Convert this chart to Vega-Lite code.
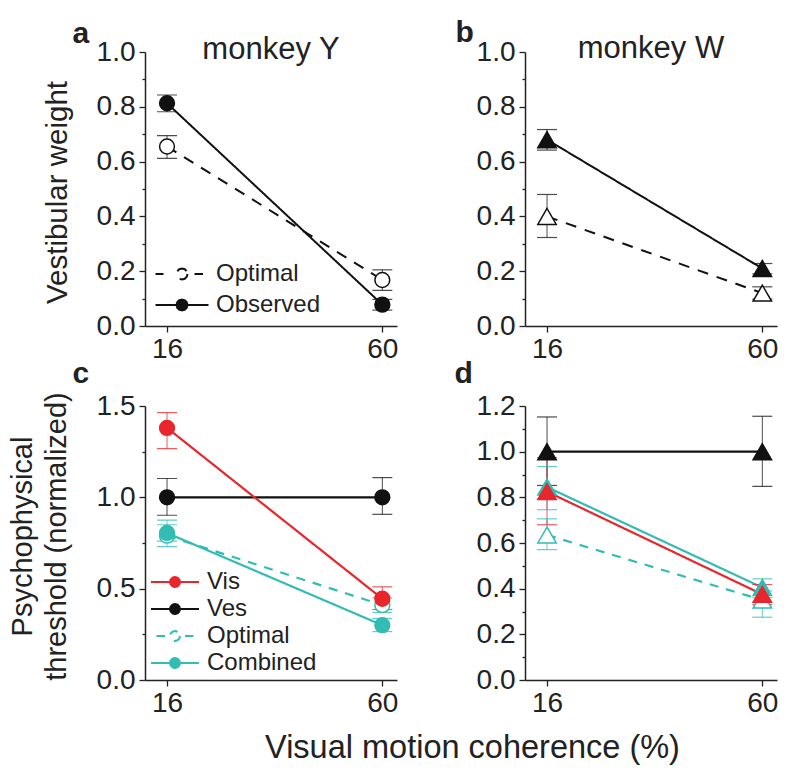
{
  "$schema": "https://vega.github.io/schema/vega-lite/v6.json",
  "autosize": "none",
  "padding": {"left": 145, "top": 52, "right": 655, "bottom": 730},
  "background": "white",
  "config": {
    "view": {"stroke": null},
    "font": "Liberation Sans",
    "axis": {"labelFont": "Liberation Sans", "labelFontSize": 28, "labelColor": "#222", "domainColor": "#222", "tickColor": "#222", "domainWidth": 1.5, "tickWidth": 1.3, "grid": false, "titleFont": "Liberation Sans", "titleFontWeight": "normal", "titleColor": "#222"},
    "title": {"font": "Liberation Sans", "fontWeight": "normal", "color": "#222"}
  },
  "datasets": {
    "a": [
      {"coh": 16, "s": "Optimal", "v": 0.655, "lo": 0.612, "hi": 0.695},
      {"coh": 60, "s": "Optimal", "v": 0.168, "lo": 0.13, "hi": 0.205},
      {"coh": 16, "s": "Observed", "v": 0.813, "lo": 0.782, "hi": 0.843},
      {"coh": 60, "s": "Observed", "v": 0.078, "lo": 0.058, "hi": 0.097}
    ],
    "b": [
      {"coh": 16, "s": "Optimal", "v": 0.40, "lo": 0.323, "hi": 0.48},
      {"coh": 60, "s": "Optimal", "v": 0.12, "lo": 0.098, "hi": 0.143},
      {"coh": 16, "s": "Observed", "v": 0.68, "lo": 0.642, "hi": 0.717},
      {"coh": 60, "s": "Observed", "v": 0.21, "lo": 0.19, "hi": 0.228}
    ],
    "c": [
      {"coh": 16, "s": "Optimal", "v": 0.79, "lo": 0.73, "hi": 0.875},
      {"coh": 60, "s": "Optimal", "v": 0.41, "lo": 0.37, "hi": 0.45},
      {"coh": 16, "s": "Combined", "v": 0.805, "lo": 0.76, "hi": 0.85},
      {"coh": 60, "s": "Combined", "v": 0.30, "lo": 0.265, "hi": 0.337},
      {"coh": 16, "s": "Ves", "v": 1.0, "lo": 0.902, "hi": 1.103},
      {"coh": 60, "s": "Ves", "v": 1.0, "lo": 0.907, "hi": 1.108},
      {"coh": 16, "s": "Vis", "v": 1.38, "lo": 1.267, "hi": 1.464},
      {"coh": 60, "s": "Vis", "v": 0.445, "lo": 0.386, "hi": 0.51}
    ],
    "d": [
      {"coh": 16, "s": "Optimal", "v": 0.635, "lo": 0.571, "hi": 0.706},
      {"coh": 60, "s": "Optimal", "v": 0.35, "lo": 0.275, "hi": 0.39},
      {"coh": 16, "s": "Combined", "v": 0.845, "lo": 0.746, "hi": 0.935},
      {"coh": 60, "s": "Combined", "v": 0.405, "lo": 0.36, "hi": 0.443},
      {"coh": 16, "s": "Ves", "v": 1.0, "lo": 0.852, "hi": 1.152},
      {"coh": 60, "s": "Ves", "v": 1.0, "lo": 0.848, "hi": 1.155},
      {"coh": 16, "s": "Vis", "v": 0.825, "lo": 0.68, "hi": 0.974},
      {"coh": 60, "s": "Vis", "v": 0.375, "lo": 0.33, "hi": 0.418}
    ]
  },
  "bounds": "flush",
  "columns": 2,
  "spacing": {"row": 80, "column": 128},
  "resolve": {"scale": {"x": "independent", "y": "independent", "color": "independent", "fill": "independent", "stroke": "independent", "shape": "independent", "strokeDash": "independent"}, "legend": {"fill": "independent", "stroke": "independent", "shape": "independent"}},
  "concat": [
    {
      "width": 252, "height": 274,
      "data": {"name": "a"},
      "title": {"text": "monkey Y", "fontSize": 31, "anchor": "middle", "frame": "group", "baseline": "alphabetic", "offset": -72},
      "encoding": {
        "x": {"field": "coh", "type": "quantitative", "scale": {"domain": [11.5, 63], "nice": false, "zero": false},
              "axis": {"values": [16, 60], "tickSize": 6, "labelPadding": 3, "title": "a", "titleX": -73, "titleY": -284, "titleAngle": 0, "titleAlign": "left", "titleBaseline": "alphabetic", "titleFontSize": 30, "titleFontWeight": "bold"}},
        "y": {"field": "v", "type": "quantitative", "scale": {"domain": [0, 1], "nice": false},
              "axis": {"values": [0, 0.1, 0.2, 0.3, 0.4, 0.5, 0.6, 0.7, 0.8, 0.9, 1.0],
                       "labelExpr": "abs(datum.value*5-round(datum.value*5))<0.001 ? format(datum.value,'.1f') : ''",
                       "tickSize": {"condition": {"test": "abs(datum.value*5-round(datum.value*5))<0.001", "value": 6}, "value": 3},
                       "labelPadding": 4,
                       "title": "Vestibular weight", "titleFontSize": 29.5, "titleX": -73, "titleY": 140, "titleAngle": 270, "titleAlign": "center", "titleBaseline": "bottom"}}
      },
      "layer": [
        {
          "mark": {"type": "point", "opacity": 0, "size": 100, "filled": true},
          "encoding": {
            "shape": {"field": "s", "type": "nominal", "scale": {"domain": ["Optimal", "Observed"], "range": ["M-5.3,0H-3.7M2.5,0H4.2M1.1,0L0.953,0.55L0.55,0.953L0,1.1L-0.55,0.953L-0.953,0.55L-1.1,0L-0.953,-0.55L-0.55,-0.953L0,-1.1L0.55,-0.953L0.953,-0.55Z", "M-5.3,0H5.3M1.1,0L0.953,0.55L0.55,0.953L0,1.1L-0.55,0.953L-0.953,0.55L-1.1,0L-0.953,-0.55L-0.55,-0.953L0,-1.1L0.55,-0.953L0.953,-0.55Z"]},
                      "legend": {"orient": "none", "legendX": 25, "legendY": 210, "title": null, "labelFont": "Liberation Sans", "labelFontSize": 24, "labelColor": "#222", "labelOffset": 22, "rowPadding": 7, "symbolSize": 100, "symbolStrokeWidth": 2, "symbolOpacity": 1, "padding": 0}},
            "fill": {"field": "s", "type": "nominal", "scale": {"domain": ["Optimal", "Observed"], "range": ["white", "#111"]},
                      "legend": {"orient": "none", "legendX": 25, "legendY": 210, "title": null, "labelFont": "Liberation Sans", "labelFontSize": 24, "labelColor": "#222", "labelOffset": 22, "rowPadding": 7, "symbolSize": 100, "symbolStrokeWidth": 2, "symbolOpacity": 1, "padding": 0}},
            "stroke": {"field": "s", "type": "nominal", "scale": {"domain": ["Optimal", "Observed"], "range": ["#111", "#111"]},
                      "legend": {"orient": "none", "legendX": 25, "legendY": 210, "title": null, "labelFont": "Liberation Sans", "labelFontSize": 24, "labelColor": "#222", "labelOffset": 22, "rowPadding": 7, "symbolSize": 100, "symbolStrokeWidth": 2, "symbolOpacity": 1, "padding": 0}}
          }
        },
        {
          "mark": {"type": "line", "strokeWidth": 2},
          "encoding": {
            "color": {"field": "s", "type": "nominal", "scale": {"domain": ["Optimal", "Observed"], "range": ["#111", "#111"]}, "legend": null},
            "strokeDash": {"field": "s", "type": "nominal", "scale": {"domain": ["Optimal", "Observed"], "range": [[11, 9], [1, 0]]}, "legend": null}
          }
        },
        {
          "mark": {"type": "rule", "strokeWidth": 1, "opacity": 0.75},
          "encoding": {"y": {"field": "lo", "type": "quantitative"}, "y2": {"field": "hi"},
                       "color": {"field": "s", "type": "nominal", "scale": {"domain": ["Optimal", "Observed"], "range": ["#111", "#111"]}, "legend": null}}
        },
        {
          "mark": {"type": "tick", "orient": "horizontal", "size": 20, "thickness": 1.2, "opacity": 0.75},
          "encoding": {"y": {"field": "lo", "type": "quantitative"},
                       "color": {"field": "s", "type": "nominal", "scale": {"domain": ["Optimal", "Observed"], "range": ["#111", "#111"]}, "legend": null}}
        },
        {
          "mark": {"type": "tick", "orient": "horizontal", "size": 20, "thickness": 1.2, "opacity": 0.75},
          "encoding": {"y": {"field": "hi", "type": "quantitative"},
                       "color": {"field": "s", "type": "nominal", "scale": {"domain": ["Optimal", "Observed"], "range": ["#111", "#111"]}, "legend": null}}
        },
        {
          "mark": {"type": "point", "shape": "circle", "size": 220, "strokeWidth": 1.5, "opacity": 1, "filled": true},
          "encoding": {
            "fill": {"field": "s", "type": "nominal", "scale": {"domain": ["Optimal", "Observed"], "range": ["white", "#111"]}, "legend": null},
            "stroke": {"field": "s", "type": "nominal", "scale": {"domain": ["Optimal", "Observed"], "range": ["#111", "#111"]}, "legend": null}
          }
        }
      ]
    },
    {
      "width": 252, "height": 274,
      "data": {"name": "b"},
      "title": {"text": "monkey W", "fontSize": 31, "anchor": "middle", "frame": "group", "baseline": "alphabetic", "offset": -72},
      "encoding": {
        "x": {"field": "coh", "type": "quantitative", "scale": {"domain": [11.5, 63], "nice": false, "zero": false},
              "axis": {"values": [16, 60], "tickSize": 6, "labelPadding": 3, "title": "b", "titleX": -70, "titleY": -285, "titleAngle": 0, "titleAlign": "left", "titleBaseline": "alphabetic", "titleFontSize": 30, "titleFontWeight": "bold"}},
        "y": {"field": "v", "type": "quantitative", "scale": {"domain": [0, 1], "nice": false},
              "axis": {"values": [0, 0.1, 0.2, 0.3, 0.4, 0.5, 0.6, 0.7, 0.8, 0.9, 1.0],
                       "labelExpr": "abs(datum.value*5-round(datum.value*5))<0.001 ? format(datum.value,'.1f') : ''",
                       "tickSize": {"condition": {"test": "abs(datum.value*5-round(datum.value*5))<0.001", "value": 6}, "value": 3},
                       "labelPadding": 4, "title": null}}
      },
      "layer": [
        {
          "mark": {"type": "line", "strokeWidth": 2},
          "encoding": {
            "color": {"field": "s", "type": "nominal", "scale": {"domain": ["Optimal", "Observed"], "range": ["#111", "#111"]}, "legend": null},
            "strokeDash": {"field": "s", "type": "nominal", "scale": {"domain": ["Optimal", "Observed"], "range": [[11, 9], [1, 0]]}, "legend": null}
          }
        },
        {
          "mark": {"type": "rule", "strokeWidth": 1, "opacity": 0.75},
          "encoding": {"y": {"field": "lo", "type": "quantitative"}, "y2": {"field": "hi"},
                       "color": {"field": "s", "type": "nominal", "scale": {"domain": ["Optimal", "Observed"], "range": ["#111", "#111"]}, "legend": null}}
        },
        {
          "mark": {"type": "tick", "orient": "horizontal", "size": 20, "thickness": 1.2, "opacity": 0.75},
          "encoding": {"y": {"field": "lo", "type": "quantitative"},
                       "color": {"field": "s", "type": "nominal", "scale": {"domain": ["Optimal", "Observed"], "range": ["#111", "#111"]}, "legend": null}}
        },
        {
          "mark": {"type": "tick", "orient": "horizontal", "size": 20, "thickness": 1.2, "opacity": 0.75},
          "encoding": {"y": {"field": "hi", "type": "quantitative"},
                       "color": {"field": "s", "type": "nominal", "scale": {"domain": ["Optimal", "Observed"], "range": ["#111", "#111"]}, "legend": null}}
        },
        {
          "mark": {"type": "point", "shape": "triangle-up", "size": 340, "strokeWidth": 1.5, "opacity": 1, "filled": true},
          "encoding": {
            "fill": {"field": "s", "type": "nominal", "scale": {"domain": ["Optimal", "Observed"], "range": ["white", "#111"]}, "legend": null},
            "stroke": {"field": "s", "type": "nominal", "scale": {"domain": ["Optimal", "Observed"], "range": ["#111", "#111"]}, "legend": null}
          }
        }
      ]
    },
    {
      "width": 252, "height": 274,
      "data": {"name": "c"},
      "encoding": {
        "x": {"field": "coh", "type": "quantitative", "scale": {"domain": [11.5, 63], "nice": false, "zero": false},
              "axis": {"values": [16, 60], "tickSize": 6, "labelPadding": 3, "title": "c", "titleX": -73, "titleY": -298, "titleAngle": 0, "titleAlign": "left", "titleBaseline": "alphabetic", "titleFontSize": 30, "titleFontWeight": "bold"}},
        "y": {"field": "v", "type": "quantitative", "scale": {"domain": [0, 1.5], "nice": false},
              "axis": {"values": [0, 0.25, 0.5, 0.75, 1.0, 1.25, 1.5],
                       "labelExpr": "abs(datum.value*2-round(datum.value*2))<0.001 ? format(datum.value,'.1f') : ''",
                       "tickSize": {"condition": {"test": "abs(datum.value*2-round(datum.value*2))<0.001", "value": 6}, "value": 3},
                       "labelPadding": 4,
                       "title": ["Psychophysical", "threshold (normalized)"], "titleFontSize": 29, "titleLineHeight": 34, "titleX": -108, "titleY": 130, "titleAngle": 270, "titleAlign": "center", "titleBaseline": "bottom"}}
      },
      "layer": [
        {
          "mark": {"type": "point", "opacity": 0, "size": 100, "filled": true},
          "encoding": {
            "shape": {"field": "s", "type": "nominal", "scale": {"domain": ["Vis", "Ves", "Optimal", "Combined"], "range": ["M-4.8,0H4.8M1,0L0.866,0.5L0.5,0.866L0,1L-0.5,0.866L-0.866,0.5L-1,0L-0.866,-0.5L-0.5,-0.866L0,-1L0.5,-0.866L0.866,-0.5Z", "M-4.8,0H4.8M1,0L0.866,0.5L0.5,0.866L0,1L-0.5,0.866L-0.866,0.5L-1,0L-0.866,-0.5L-0.5,-0.866L0,-1L0.5,-0.866L0.866,-0.5Z", "M-3.7,0H-2M2,0H3.7M1,0L0.866,0.5L0.5,0.866L0,1L-0.5,0.866L-0.866,0.5L-1,0L-0.866,-0.5L-0.5,-0.866L0,-1L0.5,-0.866L0.866,-0.5Z", "M-4.8,0H4.8M1,0L0.866,0.5L0.5,0.866L0,1L-0.5,0.866L-0.866,0.5L-1,0L-0.866,-0.5L-0.5,-0.866L0,-1L0.5,-0.866L0.866,-0.5Z"]},
                      "legend": {"orient": "none", "legendX": 18, "legendY": 164, "title": null, "labelFont": "Liberation Sans", "labelFontSize": 24, "labelColor": "#222", "labelOffset": 20, "rowPadding": 3, "symbolSize": 100, "symbolStrokeWidth": 2, "symbolOpacity": 1, "padding": 0}},
            "fill": {"field": "s", "type": "nominal", "scale": {"domain": ["Vis", "Ves", "Optimal", "Combined"], "range": ["#e8262c", "#111", "white", "#32bcb4"]},
                      "legend": {"orient": "none", "legendX": 18, "legendY": 164, "title": null, "labelFont": "Liberation Sans", "labelFontSize": 24, "labelColor": "#222", "labelOffset": 20, "rowPadding": 3, "symbolSize": 100, "symbolStrokeWidth": 2, "symbolOpacity": 1, "padding": 0}},
            "stroke": {"field": "s", "type": "nominal", "scale": {"domain": ["Vis", "Ves", "Optimal", "Combined"], "range": ["#e8262c", "#111", "#32bcb4", "#32bcb4"]},
                      "legend": {"orient": "none", "legendX": 18, "legendY": 164, "title": null, "labelFont": "Liberation Sans", "labelFontSize": 24, "labelColor": "#222", "labelOffset": 20, "rowPadding": 3, "symbolSize": 100, "symbolStrokeWidth": 2, "symbolOpacity": 1, "padding": 0}}
          }
        },
        {
          "mark": {"type": "line", "strokeWidth": 2.2},
          "encoding": {
            "color": {"field": "s", "type": "nominal", "scale": {"domain": ["Vis", "Ves", "Optimal", "Combined"], "range": ["#e8262c", "#111", "#32bcb4", "#32bcb4"]}, "legend": null},
            "strokeDash": {"field": "s", "type": "nominal", "scale": {"domain": ["Vis", "Ves", "Optimal", "Combined"], "range": [[1, 0], [1, 0], [9, 8], [1, 0]]}, "legend": null}
          }
        },
        {
          "mark": {"type": "rule", "strokeWidth": 1, "opacity": 0.75},
          "encoding": {"y": {"field": "lo", "type": "quantitative"}, "y2": {"field": "hi"},
                       "color": {"field": "s", "type": "nominal", "scale": {"domain": ["Vis", "Ves", "Optimal", "Combined"], "range": ["#e8262c", "#111", "#32bcb4", "#32bcb4"]}, "legend": null}}
        },
        {
          "mark": {"type": "tick", "orient": "horizontal", "size": 20, "thickness": 1.2, "opacity": 0.75},
          "encoding": {"y": {"field": "lo", "type": "quantitative"},
                       "color": {"field": "s", "type": "nominal", "scale": {"domain": ["Vis", "Ves", "Optimal", "Combined"], "range": ["#e8262c", "#111", "#32bcb4", "#32bcb4"]}, "legend": null}}
        },
        {
          "mark": {"type": "tick", "orient": "horizontal", "size": 20, "thickness": 1.2, "opacity": 0.75},
          "encoding": {"y": {"field": "hi", "type": "quantitative"},
                       "color": {"field": "s", "type": "nominal", "scale": {"domain": ["Vis", "Ves", "Optimal", "Combined"], "range": ["#e8262c", "#111", "#32bcb4", "#32bcb4"]}, "legend": null}}
        },
        {
          "mark": {"type": "point", "shape": "circle", "size": 220, "strokeWidth": 1.5, "opacity": 1, "filled": true},
          "encoding": {
            "fill": {"field": "s", "type": "nominal", "scale": {"domain": ["Vis", "Ves", "Optimal", "Combined"], "range": ["#e8262c", "#111", "white", "#32bcb4"]}, "legend": null},
            "stroke": {"field": "s", "type": "nominal", "scale": {"domain": ["Vis", "Ves", "Optimal", "Combined"], "range": ["#e8262c", "#111", "#32bcb4", "#32bcb4"]}, "legend": null}
          }
        }
      ]
    },
    {
      "width": 252, "height": 274,
      "data": {"name": "d"},
      "encoding": {
        "x": {"field": "coh", "type": "quantitative", "scale": {"domain": [11.5, 63], "nice": false, "zero": false},
              "axis": {"values": [16, 60], "tickSize": 6, "labelPadding": 3, "title": "Visual motion coherence (%)", "titleX": -53, "titleY": 77, "titleAngle": 0, "titleAlign": "center", "titleBaseline": "alphabetic", "titleFontSize": 32.5}},
        "y": {"field": "v", "type": "quantitative", "scale": {"domain": [0, 1.2], "nice": false},
              "axis": {"values": [0, 0.1, 0.2, 0.3, 0.4, 0.5, 0.6, 0.7, 0.8, 0.9, 1.0, 1.1, 1.2],
                       "labelExpr": "abs(datum.value*5-round(datum.value*5))<0.001 ? format(datum.value,'.1f') : ''",
                       "tickSize": {"condition": {"test": "abs(datum.value*5-round(datum.value*5))<0.001", "value": 6}, "value": 3},
                       "labelPadding": 4,
                       "title": "d", "titleX": -71, "titleY": -24, "titleAngle": 0, "titleAlign": "left", "titleBaseline": "alphabetic", "titleFontSize": 30, "titleFontWeight": "bold"}}
      },
      "layer": [
        {
          "mark": {"type": "line", "strokeWidth": 2.2},
          "encoding": {
            "color": {"field": "s", "type": "nominal", "scale": {"domain": ["Vis", "Ves", "Optimal", "Combined"], "range": ["#e8262c", "#111", "#32bcb4", "#32bcb4"]}, "legend": null},
            "strokeDash": {"field": "s", "type": "nominal", "scale": {"domain": ["Vis", "Ves", "Optimal", "Combined"], "range": [[1, 0], [1, 0], [9, 8], [1, 0]]}, "legend": null}
          }
        },
        {
          "mark": {"type": "rule", "strokeWidth": 1, "opacity": 0.75},
          "encoding": {"y": {"field": "lo", "type": "quantitative"}, "y2": {"field": "hi"},
                       "color": {"field": "s", "type": "nominal", "scale": {"domain": ["Vis", "Ves", "Optimal", "Combined"], "range": ["#e8262c", "#111", "#32bcb4", "#32bcb4"]}, "legend": null}}
        },
        {
          "mark": {"type": "tick", "orient": "horizontal", "size": 20, "thickness": 1.2, "opacity": 0.75},
          "encoding": {"y": {"field": "lo", "type": "quantitative"},
                       "color": {"field": "s", "type": "nominal", "scale": {"domain": ["Vis", "Ves", "Optimal", "Combined"], "range": ["#e8262c", "#111", "#32bcb4", "#32bcb4"]}, "legend": null}}
        },
        {
          "mark": {"type": "tick", "orient": "horizontal", "size": 20, "thickness": 1.2, "opacity": 0.75},
          "encoding": {"y": {"field": "hi", "type": "quantitative"},
                       "color": {"field": "s", "type": "nominal", "scale": {"domain": ["Vis", "Ves", "Optimal", "Combined"], "range": ["#e8262c", "#111", "#32bcb4", "#32bcb4"]}, "legend": null}}
        },
        {
          "mark": {"type": "point", "shape": "triangle-up", "size": 340, "strokeWidth": 1.5, "opacity": 1, "filled": true},
          "encoding": {
            "fill": {"field": "s", "type": "nominal", "scale": {"domain": ["Vis", "Ves", "Optimal", "Combined"], "range": ["#e8262c", "#111", "white", "#32bcb4"]}, "legend": null},
            "stroke": {"field": "s", "type": "nominal", "scale": {"domain": ["Vis", "Ves", "Optimal", "Combined"], "range": ["#e8262c", "#111", "#32bcb4", "#32bcb4"]}, "legend": null}
          }
        }
      ]
    }
  ]
}
